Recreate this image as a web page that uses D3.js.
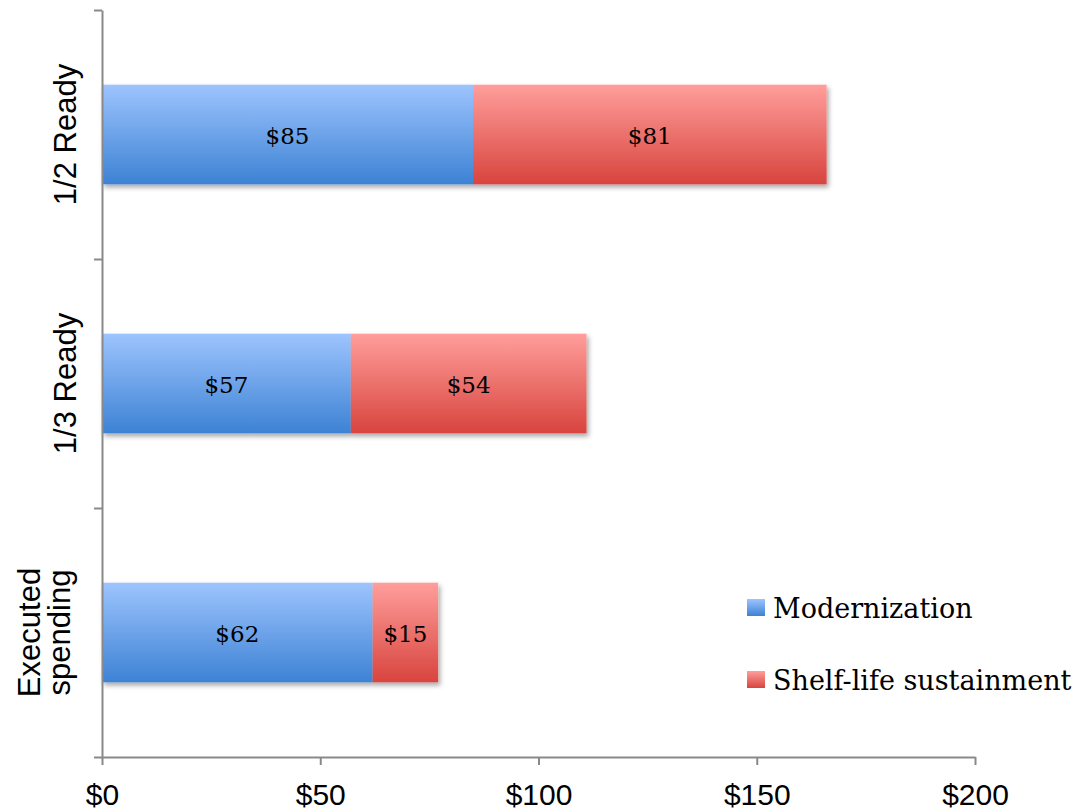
<!DOCTYPE html>
<html>
<head>
<meta charset="utf-8">
<script src="https://cdn.jsdelivr.net/npm/d3@7"></script>
<style>
  body{margin:0;background:#fff;}
  svg{display:block;}
</style>
</head>
<body>
<div id="chart"></div>
<script>
// data
var categories = ["1/2 Ready", "1/3 Ready", "Executed spending"];
var modernization = [85, 57, 62];
var sustainment = [81, 54, 15];
var seriesNames = ["Modernization", "Shelf-life sustainment"];
var xTicks = [0, 50, 100, 150, 200];

var width = 1076, height = 812;
var margin = {top:10, right:101, bottom:55, left:102};
var serif = "'DejaVu Serif','Liberation Serif',serif";
var sans = "'Liberation Sans',Arial,sans-serif";

var svg = d3.select("#chart").append("svg")
    .attr("width", width).attr("height", height);

var defs = svg.append("defs");
var grads = [["gBlue","#9dc4fe","#3d82d4"],["gRed","#ff9e9b","#d8443e"]];
grads.forEach(function(g){
    var lg = defs.append("linearGradient").attr("id", g[0])
        .attr("x1",0).attr("y1",0).attr("x2",0).attr("y2",1);
    lg.append("stop").attr("offset","0%").attr("stop-color", g[1]);
    lg.append("stop").attr("offset","100%").attr("stop-color", g[2]);
});
var flt = defs.append("filter").attr("id","shadow")
    .attr("x","-5%").attr("y","-10%").attr("width","115%").attr("height","130%");
flt.append("feDropShadow").attr("dx",2).attr("dy",3).attr("stdDeviation",2.5)
    .attr("flood-color","#000").attr("flood-opacity",0.35);

var x = d3.scaleLinear().domain([0,200]).range([margin.left, width-margin.right]);
var y = d3.scaleBand().domain(categories).range([margin.top, height-margin.bottom]).paddingInner(0.6).paddingOuter(0.3);
var yEdges = d3.scaleLinear().domain([0,3]).range([margin.top, height-margin.bottom]);

var rows = categories.map(function(c,i){
    return {cat:c, segs:[
        {x0:0, x1:modernization[i], v:modernization[i], fill:"url(#gBlue)"},
        {x0:modernization[i], x1:modernization[i]+sustainment[i], v:sustainment[i], fill:"url(#gRed)"}
    ]};
});

var g = svg.append("g");
var row = g.selectAll("g.row").data(rows).enter().append("g").attr("class","row")
    .attr("filter","url(#shadow)");
row.selectAll("rect").data(function(d){return d.segs.map(function(s){s.cat=d.cat;return s;});})
    .enter().append("rect")
    .attr("x", function(d){return x(d.x0);})
    .attr("width", function(d){return x(d.x1)-x(d.x0);})
    .attr("y", function(d){return y(d.cat);})
    .attr("height", y.bandwidth())
    .attr("fill", function(d){return d.fill;});

rows.forEach(function(r){
    g.selectAll(null).data(r.segs).enter().append("text")
        .attr("x", function(d){return (x(d.x0)+x(d.x1))/2;})
        .attr("y", y(r.cat)+y.bandwidth()/2)
        .attr("dy","0.4em")
        .attr("text-anchor","middle")
        .attr("font-family",serif)
        .attr("font-size",23)
        .attr("fill","#000")
        .text(function(d){return "$"+d.v;});
});

// axes
var axisColor = "#898989";
var xAxis = svg.append("g").attr("transform","translate(0,"+(height-margin.bottom)+")")
    .call(d3.axisBottom(x).tickValues(xTicks).tickSize(8).tickSizeOuter(0).tickFormat(function(d){return "$"+d;}));
xAxis.select(".domain").attr("stroke",axisColor).attr("stroke-width",2);
xAxis.selectAll(".tick line").attr("stroke",axisColor).attr("stroke-width",2);
xAxis.selectAll(".tick text").attr("font-family",sans)
    .attr("font-size",30).attr("fill","#000").attr("y",21).attr("dy","0.9em");

var yAxis = svg.append("g").attr("transform","translate("+margin.left+",0)")
    .call(d3.axisLeft(yEdges).tickValues([0,1,2,3]).tickSize(8).tickSizeOuter(0).tickFormat(""));
yAxis.select(".domain").attr("stroke",axisColor).attr("stroke-width",2);
yAxis.selectAll(".tick line").attr("stroke",axisColor).attr("stroke-width",2);

// category labels, rotated
categories.forEach(function(c){
    var cy = y(c)+y.bandwidth()/2;
    var words = c === "Executed spending" ? ["Executed","spending"] : [c];
    var t = svg.append("text")
        .attr("transform","translate(65,"+cy+") rotate(-90)")
        .attr("text-anchor","middle")
        .attr("font-family",sans)
        .attr("font-size",31).attr("fill","#000");
    if(words.length==1){
        t.append("tspan").attr("x",0).attr("dy","0.36em").text(words[0]);
    } else {
        t.append("tspan").attr("x",0).attr("dy","-0.8em").text(words[0]);
        t.append("tspan").attr("x",0).attr("dy","0.97em").text(words[1]);
    }
});

// legend
var legend = svg.append("g").attr("transform","translate(747,599)");
var leg = legend.selectAll("g").data(seriesNames).enter().append("g")
    .attr("transform", function(d,i){return "translate(0,"+(i*72)+")";});
leg.append("rect").attr("width",18).attr("height",17)
    .attr("fill", function(d,i){return i==0?"url(#gBlue)":"url(#gRed)";});
leg.append("text").attr("x",26).attr("y",9).attr("dy","0.36em")
    .attr("font-family",serif)
    .attr("font-size",27).attr("fill","#000")
    .text(function(d){return d;});
</script>
</body>
</html>
